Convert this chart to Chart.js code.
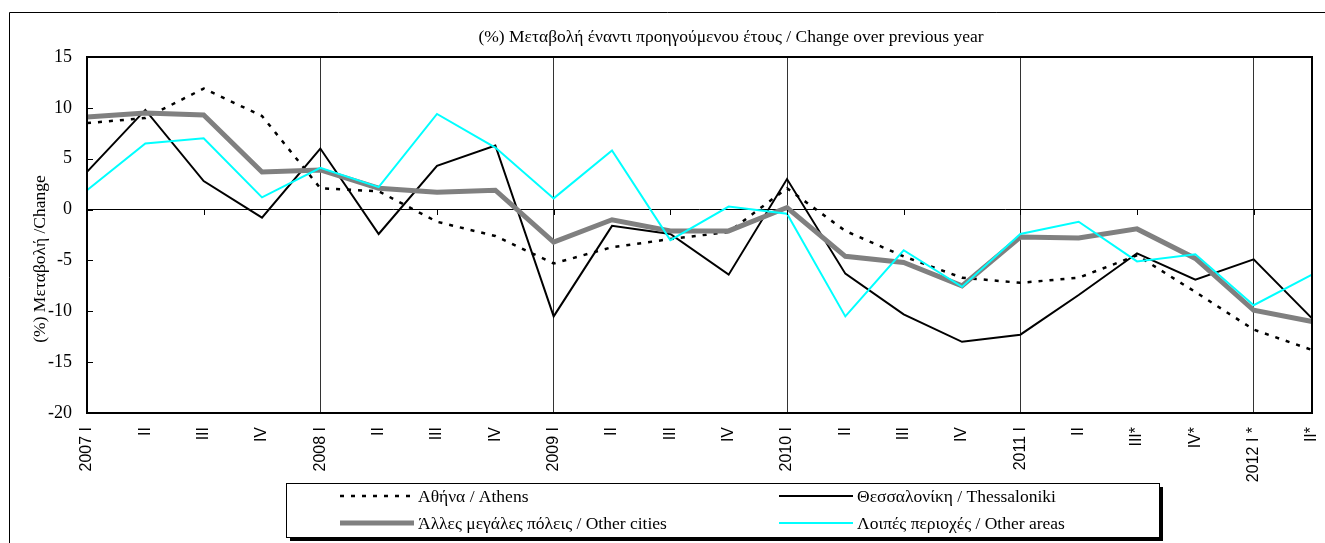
<!DOCTYPE html>
<html>
<head>
<meta charset="utf-8">
<script src="https://cdn.jsdelivr.net/npm/chart.js@4.4.1/dist/chart.umd.min.js"></script>
<style>
  html, body { margin: 0; padding: 0; background: #fff; }
  canvas { display: block; }
</style>
</head>
<body>
<canvas id="changeChart" width="1325" height="543"></canvas>
<script>
// quarters on the category axis
const quarters = ['2007 I', 'II', 'III', 'IV', '2008 I', 'II', 'III', 'IV', '2009 I', 'II', 'III', 'IV',
    '2010 I', 'II', 'III', 'IV', '2011 I', 'II', 'III*', 'IV*', '2012 I *', 'II*'];

// % change over previous year
const athens = [8.5, 9.0, 11.9, 9.2, 2.1, 1.8, -1.2, -2.6, -5.3, -3.7, -2.9, -2.2,
    2.1, -2.1, -4.6, -6.7, -7.2, -6.7, -4.5, -8.1, -11.8, -13.8];
const thessaloniki = [3.7, 9.8, 2.8, -0.8, 6.0, -2.4, 4.3, 6.3, -10.5, -1.6, -2.4, -6.4,
    3.0, -6.3, -10.3, -13.0, -12.3, -8.4, -4.3, -6.9, -4.9, -10.7];
const otherCities = [9.1, 9.5, 9.3, 3.7, 3.9, 2.1, 1.7, 1.9, -3.2, -1.0, -2.1, -2.1,
    0.2, -4.6, -5.2, -7.5, -2.7, -2.8, -1.9, -4.8, -9.9, -11.0];
const otherAreas = [1.9, 6.5, 7.0, 1.2, 4.1, 2.2, 9.4, 6.1, 1.1, 5.8, -3.0, 0.3,
    -0.4, -10.5, -4.0, -7.6, -2.4, -1.2, -5.1, -4.4, -9.4, -6.4];

const yTicks = { min: -20, max: 15, step: 5 };

const titleText = '(%) Μεταβολή έναντι προηγούμενου έτους / Change over previous year';
const yTitleText = '(%) Μεταβολή /Change';

const serif = '"Liberation Serif", "Times New Roman", serif';

// frame, titles, inward ticks and the boxed legend
const decor = {
    id: 'decor',
    beforeDraw(chart) {
        const ctx = chart.ctx;
        ctx.save();
        ctx.fillStyle = '#fff';
        ctx.fillRect(0, 0, chart.width, chart.height);

        ctx.strokeStyle = '#000';
        ctx.lineWidth = 1;
        ctx.beginPath();
        ctx.moveTo(9.5, chart.height);
        ctx.lineTo(9.5, 12.5);
        ctx.lineTo(chart.width, 12.5);
        ctx.stroke();

        ctx.fillStyle = '#000';
        ctx.font = '17.5px ' + serif;
        ctx.textAlign = 'center';
        ctx.textBaseline = 'middle';
        ctx.fillText(titleText, 731, 37);

        ctx.translate(40, 259);
        ctx.rotate(-Math.PI / 2);
        ctx.fillText(yTitleText, 0, 0);
        ctx.restore();
    },
    afterDraw(chart) {
        const ctx = chart.ctx;
        const area = chart.chartArea;
        const x = chart.scales.x;
        const y = chart.scales.y;
        ctx.save();

        // plot border
        ctx.strokeStyle = '#000';
        ctx.lineWidth = 2;
        ctx.strokeRect(area.left, area.top, area.right - area.left, area.bottom - area.top);

        // small inward ticks on the value axis
        ctx.lineWidth = 1;
        ctx.beginPath();
        y.ticks.forEach(t => {
            const py = Math.round(y.getPixelForValue(t.value)) + 0.5;
            ctx.moveTo(area.left, py);
            ctx.lineTo(area.left + 6, py);
        });
        // ticks under the zero line every second quarter
        const zy = Math.round(y.getPixelForValue(0));
        quarters.forEach((q, i) => {
            if (i % 2 === 0) {
                const px = Math.round(x.getPixelForValue(i)) + 0.5;
                ctx.moveTo(px, zy);
                ctx.lineTo(px, zy + 5);
            }
        });
        ctx.stroke();

        // legend box with shadow
        const lx = 286, ly = 483, lw = 873, lh = 54;
        ctx.fillStyle = '#000';
        ctx.fillRect(lx + 4, ly + 4, lw, lh);
        ctx.fillStyle = '#fff';
        ctx.fillRect(lx, ly, lw, lh);
        ctx.strokeStyle = '#000';
        ctx.lineWidth = 1;
        ctx.strokeRect(lx + 0.5, ly + 0.5, lw, lh);

        const colStart = [340, 779];
        const colEnd = [414, 853];
        const rowY = [496, 523];
        ctx.font = '17.5px ' + serif;
        ctx.textAlign = 'left';
        ctx.textBaseline = 'middle';
        chart.data.datasets.forEach((ds, i) => {
            const c = i % 2, r = Math.floor(i / 2);
            ctx.beginPath();
            ctx.strokeStyle = ds.borderColor;
            ctx.lineWidth = ds.borderWidth;
            ctx.setLineDash(ds.borderDash || []);
            ctx.moveTo(colStart[c], rowY[r]);
            ctx.lineTo(colEnd[c], rowY[r]);
            ctx.stroke();
            ctx.setLineDash([]);
            ctx.fillStyle = '#000';
            ctx.fillText(ds.label, colEnd[c] + 4, rowY[r] + 1);
        });
        ctx.restore();
    }
};

const ctx = document.getElementById('changeChart').getContext('2d');
new Chart(ctx, {
    type: 'line',
    data: {
        labels: quarters,
        datasets: [
            { label: 'Αθήνα / Athens', data: athens, borderColor: '#000', borderWidth: 2.5, borderDash: [4, 7], order: 3 },
            { label: 'Θεσσαλονίκη / Thessaloniki', data: thessaloniki, borderColor: '#000', borderWidth: 2, order: 2 },
            { label: 'Άλλες μεγάλες πόλεις / Other cities', data: otherCities, borderColor: '#808080', borderWidth: 5, order: 1 },
            { label: 'Λοιπές περιοχές / Other areas', data: otherAreas, borderColor: '#00ffff', borderWidth: 2, order: 0 }
        ]
    },
    options: {
        responsive: false,
        animation: false,
        layout: { padding: { top: 57, right: 13, left: 0, bottom: 0 } },
        elements: {
            point: { radius: 0 },
            line: { tension: 0, borderJoinStyle: 'miter', fill: false }
        },
        plugins: {
            legend: { display: false },
            tooltip: { enabled: false }
        },
        scales: {
            x: {
                offset: false,
                border: { display: false },
                grid: {
                    drawTicks: false,
                    lineWidth: 1,
                    color: c => (c.index % 4 === 0 ? '#333' : 'rgba(0,0,0,0)')
                },
                ticks: {
                    autoSkip: false,
                    minRotation: 90,
                    maxRotation: 90,
                    padding: 14,
                    color: '#000',
                    font: { family: '"Liberation Sans", Arial, sans-serif', size: 16 }
                },
                afterFit: s => {
                    s.height = 130;
                    s.paddingLeft = 0;
                    s.paddingRight = 0;
                }
            },
            y: {
                min: yTicks.min,
                max: yTicks.max,
                border: { display: false },
                grid: {
                    drawTicks: false,
                    lineWidth: 1,
                    color: c => (c.tick && c.tick.value === 0 ? '#000' : 'rgba(0,0,0,0)')
                },
                ticks: {
                    stepSize: yTicks.step,
                    padding: 15,
                    color: '#000',
                    font: { family: serif, size: 18 }
                },
                afterFit: s => { s.width = 87; }
            }
        }
    },
    plugins: [decor]
});
</script>
</body>
</html>
